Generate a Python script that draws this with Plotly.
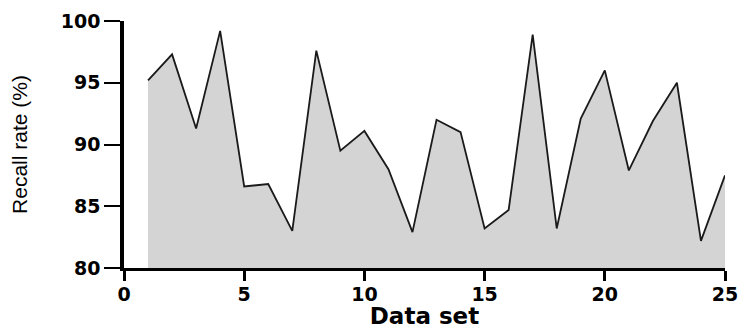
import plotly.graph_objects as go

data_set = list(range(1, 26))
recall_rate = [95.2, 97.3, 91.3, 99.2, 86.6, 86.8, 83.0, 97.6, 89.5, 91.1,
               88.0, 82.9, 92.0, 91.0, 83.2, 84.7, 98.9, 83.2, 92.1, 96.0,
               87.9, 91.9, 95.0, 82.2, 87.5]
x_ticks = [0, 5, 10, 15, 20, 25]
y_ticks = [80, 85, 90, 95, 100]

fig = go.Figure()
fig.add_trace(go.Scatter(
    x=data_set, y=recall_rate, mode="lines",
    line=dict(color="#1a1a1a", width=1.8),
    fill="tozeroy", fillcolor="#d4d4d4",
    showlegend=False,
))

tick_font = dict(family="DejaVu Sans, sans-serif", size=19, color="black", weight="bold")

fig.update_layout(
    width=742, height=329,
    margin=dict(l=124, r=17, t=21, b=61),
    paper_bgcolor="white", plot_bgcolor="white",
    xaxis=dict(
        range=[0, 25], tickvals=x_ticks, ticks="outside", ticklen=10, tickwidth=3,
        tickcolor="black", showline=True, linecolor="black", linewidth=2.5,
        showgrid=False, zeroline=False, tickfont=tick_font, automargin=False,
        ticklabelstandoff=-3,
        title=dict(text="Data set", font=dict(family="DejaVu Sans, sans-serif", size=23, color="black", weight="bold"), standoff=9),
    ),
    yaxis=dict(
        range=[80, 100], tickvals=y_ticks, ticks="outside", ticklen=16, tickwidth=2,
        tickcolor="black", showline=True, linecolor="black", linewidth=3.5,
        showgrid=False, zeroline=False, tickfont=tick_font, automargin=False,
        title=dict(text="Recall rate (%)", font=dict(family="Liberation Sans, Arial, sans-serif", size=21, color="black"), standoff=28),
    ),
)

fig.write_html("out.html", config={"displayModeBar": False},
               post_script="document.body.style.margin='0';document.body.style.overflow='hidden';")
